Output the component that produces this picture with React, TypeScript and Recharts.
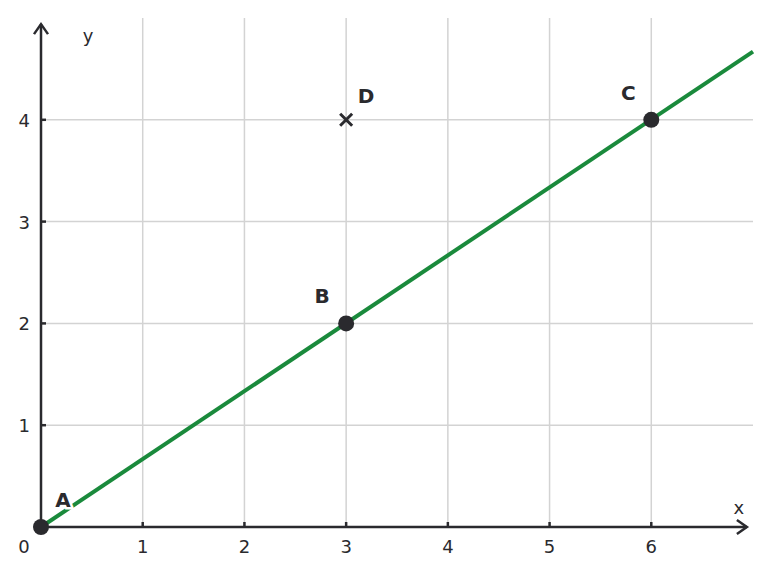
import { ComposedChart, Line, Scatter, XAxis, YAxis, ReferenceLine, ReferenceDot } from 'recharts';

// line through A and C, drawn out to the right edge
const lineX = [0, 7];
const lineY = [0, 4.67];

const pointNames = ['A', 'B', 'C'];
const pointX = [0, 3, 6];
const pointY = [0, 2, 4];

const crossName = 'D';
const crossX = 3;
const crossY = 4;

const xTicks = [0, 1, 2, 3, 4, 5, 6];
const yTicks = [0, 1, 2, 3, 4];

const lineData = lineX.map((x, i) => ({ x, y: lineY[i] }));
const pointData = pointNames.map((name, i) => ({ name, x: pointX[i], y: pointY[i] }));

const INK = '#2a2a2e';
const GREEN = '#1a8a3c';
const GRID = '#d3d3d3';
const FONT = 'DejaVu Sans, sans-serif';

// label offsets per point (px)
const labelOffset: Record<string, [number, number]> = {
  A: [22, -20],
  B: [-24, -20],
  C: [-23, -20],
  D: [20, -17],
};

const XTick = (props: any) => {
  const { x, y, payload } = props;
  const v = payload.value;
  return (
    <g>
      {v !== 0 && <line x1={x} x2={x} y1={y - 5} y2={y} stroke={INK} strokeWidth={2.5} />}
      <text x={v === 0 ? x - 17 : x} y={y + 26} textAnchor="middle" fill={INK} fontSize={18} fontFamily={FONT}>
        {v}
      </text>
    </g>
  );
};

const YTick = (props: any) => {
  const { x, y, payload } = props;
  const v = payload.value;
  if (v === 0) return <g />;
  return (
    <g>
      <line x1={x} x2={x + 5} y1={y} y2={y} stroke={INK} strokeWidth={2.5} />
      <text x={x - 11} y={y + 7} textAnchor="end" fill={INK} fontSize={18} fontFamily={FONT}>
        {v}
      </text>
    </g>
  );
};

const Dot = (props: any) => {
  const { cx, cy, payload } = props;
  const [dx, dy] = labelOffset[payload.name];
  return (
    <g>
      <circle cx={cx} cy={cy} r={8} fill={INK} />
      <text
        x={cx + dx}
        y={cy + dy}
        textAnchor="middle"
        fill={INK}
        fontSize={20}
        fontWeight="bold"
        fontFamily={FONT}
        stroke="#fff"
        strokeWidth={5}
        paintOrder="stroke"
      >
        {payload.name}
      </text>
    </g>
  );
};

const Cross = (props: any) => {
  const { cx, cy } = props;
  const s = 6;
  const [dx, dy] = labelOffset[crossName];
  return (
    <g>
      <path d={`M${cx - s},${cy - s}L${cx + s},${cy + s}M${cx - s},${cy + s}L${cx + s},${cy - s}`} stroke={INK} strokeWidth={3} />
      <text x={cx + dx} y={cy + dy} textAnchor="middle" fill={INK} fontSize={20} fontWeight="bold" fontFamily={FONT}>
        {crossName}
      </text>
    </g>
  );
};

const ArrowRight = (props: any) => {
  const { cx, cy } = props;
  return (
    <g>
      <path d={`M${cx - 10},${cy - 7}L${cx},${cy}L${cx - 10},${cy + 7}`} fill="none" stroke={INK} strokeWidth={2.5} />
      <text x={cx - 8} y={cy - 13} textAnchor="middle" fill={INK} fontSize={18} fontFamily={FONT}>x</text>
    </g>
  );
};

const ArrowUp = (props: any) => {
  const { cx, cy } = props;
  return (
    <g>
      <path d={`M${cx - 7},${cy + 10}L${cx},${cy}L${cx + 7},${cy + 10}`} fill="none" stroke={INK} strokeWidth={2.5} />
      <text x={cx + 47} y={cy + 18} textAnchor="middle" fill={INK} fontSize={18} fontFamily={FONT}>y</text>
    </g>
  );
};

const App = () => {
  return (
    <div style={{ position: 'absolute', left: 0, top: 0, background: '#fff' }}>
      <ComposedChart width={771} height={575} margin={{ top: 18, right: 18, left: 0, bottom: 0 }}>
        <XAxis
          type="number"
          dataKey="x"
          domain={[0, 7]}
          ticks={xTicks}
          axisLine={false}
          tickLine={false}
          tickSize={0}
          tickMargin={0}
          height={48}
          tick={<XTick />}
          interval={0}
        />
        <YAxis
          type="number"
          dataKey="y"
          domain={[0, 5]}
          ticks={yTicks}
          axisLine={false}
          tickLine={false}
          tickSize={0}
          tickMargin={0}
          width={41}
          tick={<YTick />}
          interval={0}
        />
        {xTicks.filter((t) => t > 0).map((t) => (
          <ReferenceLine key={`gx${t}`} x={t} stroke={GRID} strokeWidth={1.5} />
        ))}
        {yTicks.filter((t) => t > 0).map((t) => (
          <ReferenceLine key={`gy${t}`} y={t} stroke={GRID} strokeWidth={1.5} />
        ))}
        <ReferenceLine segment={[{ x: 0, y: 0 }, { x: 6.94, y: 0 }]} stroke={INK} strokeWidth={2.5} />
        <ReferenceLine segment={[{ x: 0, y: 0 }, { x: 0, y: 4.94 }]} stroke={INK} strokeWidth={2.5} />
        <ReferenceDot x={6.94} y={0} shape={<ArrowRight />} />
        <ReferenceDot x={0} y={4.94} shape={<ArrowUp />} />
        <Line
          data={lineData}
          dataKey="y"
          type="linear"
          stroke={GREEN}
          strokeWidth={4}
          dot={false}
          activeDot={false}
          isAnimationActive={false}
        />
        <Scatter data={pointData} shape={<Dot />} isAnimationActive={false} />
        <ReferenceDot x={crossX} y={crossY} shape={<Cross />} />
      </ComposedChart>
    </div>
  );
};

export default App;
